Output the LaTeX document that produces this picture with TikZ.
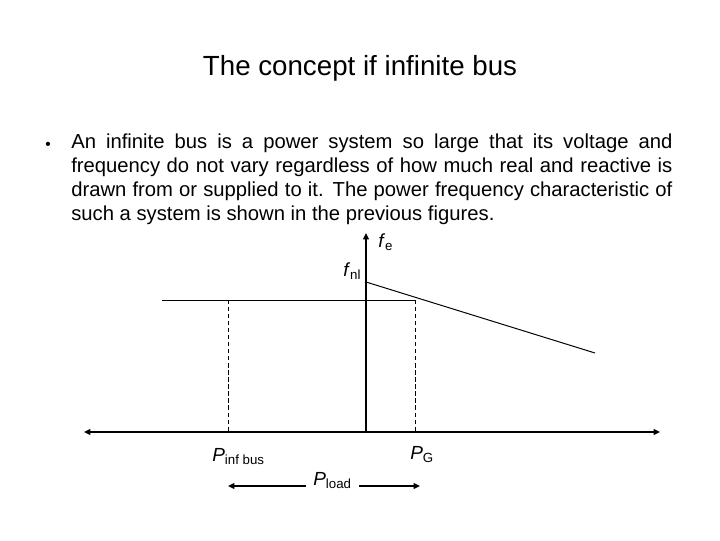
\documentclass[tikz,border=0pt]{standalone}
\usepackage{fontspec}
\setmainfont{Liberation Sans}
\usepackage{xcolor}
\usepackage{tikz}
\usetikzlibrary{arrows.meta, positioning, calc}
\definecolor{cInk}{HTML}{000000}

\begin{document}
\begin{tikzpicture}[
  x=0.025cm, y=-0.025cm,
  >={Triangle[length=4.5pt,width=4pt]},
  every node/.style={font=\fontsize{13}{15}\selectfont, inner sep=0pt, text=cInk},
  axis/.style={line width=1.5pt, draw=cInk},
  thin line/.style={line width=0.7pt, draw=cInk},
  guide/.style={line width=0.6pt, draw=cInk, dash pattern=on 3pt off 2pt},
  lbl/.style={font=\fontsize{13.5}{15}\selectfont}
]
\useasboundingbox (0,0) rectangle (720,540);

\node (title) at (360,68) {\fontsize{19.7}{23}\selectfont The concept if infinite bus};
\node[anchor=base west] (bullet) at (45,149) {\fontsize{11}{13}\selectfont •};
\node[anchor=north west, text width=15.025cm, align=justify, font=\fontsize{14.4}{16.9}\selectfont] (para) at (71,134)
  {An infinite bus is a power system so large that its voltage and\linebreak
   frequency do not vary regardless of how much real and reactive is\linebreak
   drawn from or supplied to it. The power frequency characteristic of\linebreak
   such a system is shown in the previous figures.};

\coordinate (origin) at (366,432);
\coordinate (ytop) at (366,233);
\coordinate (xleft) at (84,432);
\coordinate (xright) at (660,432);
\coordinate (busL) at (162,300);
\coordinate (busR) at (415,300);
\coordinate (nl) at (366,282);
\coordinate (droopEnd) at (595,353);
\coordinate (infTop) at (228,300);
\coordinate (infBot) at (228,432);
\coordinate (gTop) at (415,300);
\coordinate (gBot) at (415,432);
\coordinate (loadL) at (228,486);
\coordinate (loadR) at (420,486);

\node[lbl, anchor=west] (fe) at (378,242) {\textit{f}\textsubscript{e}};
\node[lbl, anchor=west] (fnl) at (343,271) {\textit{f}\textsubscript{nl}};
\node[lbl, anchor=west] (pinf) at (212,457) {\textit{P}\textsubscript{inf bus}};
\node[lbl, anchor=west] (pg) at (410,455) {\textit{P}\textsubscript{G}};
\node[lbl, anchor=west] (pload) at (313,481) {\textit{P}\textsubscript{load}};

\draw[axis, <->] (xleft) -- (xright);
\draw[axis, ->] (origin) -- (ytop);
\draw[thin line] (busL) -- (busR);
\draw[thin line] (nl) -- (droopEnd);
\draw[guide] (infTop) -- (infBot);
\draw[guide] (gTop) -- (gBot);
\draw[axis, ->] ($(pload.west |- loadL)+(-7,0)$) -- (loadL);
\draw[axis, ->] ($(pload.east |- loadR)+(7,0)$) -- (loadR);
\end{tikzpicture}
\end{document}
